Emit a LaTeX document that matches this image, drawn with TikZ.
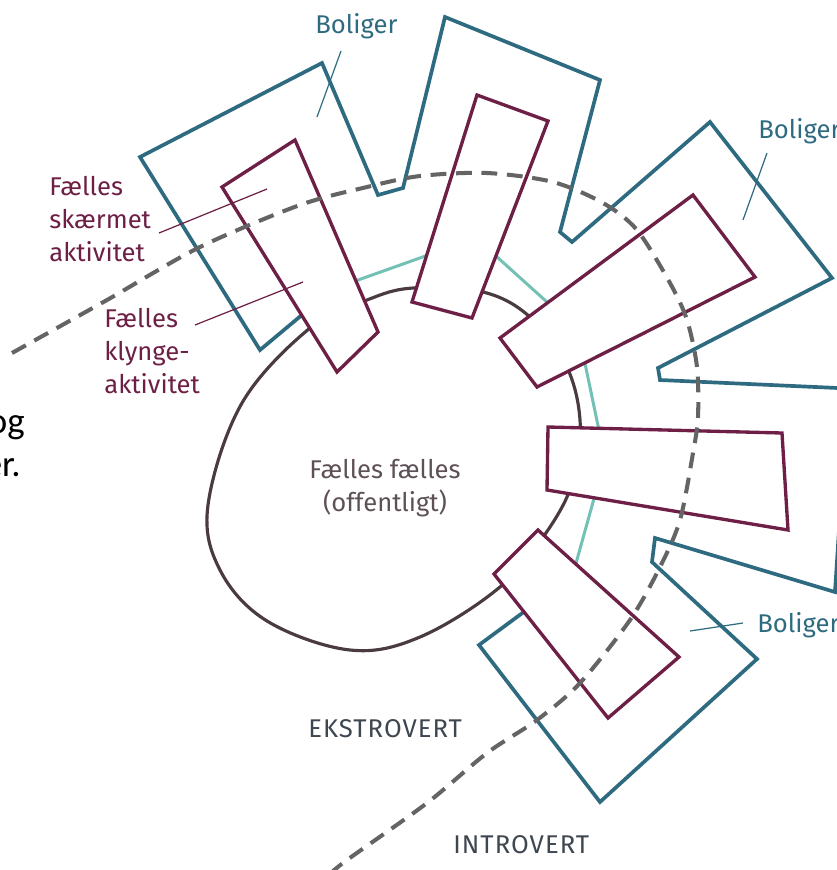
\documentclass[tikz,border=0pt]{standalone}
\usepackage{fontspec}
\setmainfont{Fira Sans}
\newfontfamily\bodyfont{Carlito}
\definecolor{boligblue}{HTML}{2E6B80}
\definecolor{fellespurple}{HTML}{6D1F45}
\definecolor{ringteal}{HTML}{72C1B4}
\definecolor{eggbrown}{HTML}{4A3B41}
\definecolor{dashgrey}{HTML}{646464}
\definecolor{offgrey}{HTML}{5E5057}
\definecolor{vertgrey}{HTML}{3E4650}
\tikzset{
    bolig/.style={draw=boligblue, line width=2.1pt, line join=miter},
    fellesbox/.style={draw=fellespurple, fill=white, line width=1.9pt, line join=miter},
    boliglbl/.style={text=boligblue, inner sep=0pt, anchor=base west},
    felleslbl/.style={text=fellespurple, inner sep=0pt, anchor=north west, align=left},
    vertlbl/.style={text=vertgrey, inner sep=0pt, anchor=base west, font=\fontsize{14.6}{18.7}\selectfont\addfontfeature{LetterSpace=4}},
    leaderblue/.style={draw=boligblue, line width=0.7pt},
    leaderpurple/.style={draw=fellespurple, line width=0.7pt},
}
\newcommand{\Egg}{
    \draw[eggbrown, line width=1.8pt] plot[smooth cycle, tension=0.6] coordinates {
        (413,288) (483,292) (530,317) (566,365) (580,420) (574,478) (548,530)
        (500,587) (420,637) (350,650) (267,621) (220,570) (208,505)
        (242,403) (310,328) (367,300)};
}

\begin{document}
\begin{tikzpicture}[x=0.02cm, y=-0.02cm, font=\fontsize{14.6}{18.7}\selectfont]
    \useasboundingbox (0,0) rectangle (837,870);
    \clip (0,0) rectangle (837,870);

    % ring and egg behind the boxes
    \draw[ringteal, line width=1.7pt] (330,290) -- (476,238) -- (578,330) -- (605,459) -- (568,592);
    \Egg

    % boliger outline, running out at the right edge
    \draw[bolig] (315,304) -- (260,350) -- (140,157) -- (322,63) -- (378,195) -- (403,188)
        -- (445,17) -- (600,80) -- (560,232) -- (572,242) -- (710,122) -- (832,278)
        -- (658,368) -- (660,380) -- (860,389);
    \draw[bolig] (839,530) -- (835,592)
        -- (655,538) -- (652,562) -- (757,659) -- (600,802) -- (479,645) -- (540,600);

    % faelles boxes
    \draw[fellesbox] (222,187) -- (295,140) -- (378,332) -- (337,372) -- cycle;
    \draw[fellesbox] (477,95) -- (548,121) -- (472,318) -- (412,302) -- cycle;
    \draw[fellesbox] (693,195) -- (755,277) -- (537,387) -- (500,338) -- cycle;
    \draw[fellesbox] (548,427) -- (782,433) -- (788,530) -- (547,490) -- cycle;
    \draw[fellesbox] (538,530) -- (679,657) -- (608,718) -- (494,574) -- cycle;

    % ekstrovert / introvert border
    \draw[dashgrey, line width=2.3pt, dash pattern=on 9pt off 5.5pt] plot[smooth] coordinates {
        (12,353) (107,300) (200,247) (300,205) (367,187) (420,176) (487,173)
        (553,182) (603,203) (637,230) (670,283) (687,320) (697,367) (698,417)
        (693,453) (680,520) (660,567) (630,620) (580,683) (537,720) (487,753)
        (427,803) (347,860) (330,874)};

    % labels
    \node[boliglbl] (bolA) at (315,33) {Boliger};
    \node[boliglbl] (bolB) at (758,138) {Boliger};
    \node[boliglbl] (bolC) at (757,632) {Boliger};
    \coordinate (bolA-from) at (341,51);
    \coordinate (bolA-to) at (317,117);
    \coordinate (bolB-from) at (767,153);
    \coordinate (bolB-to) at (743,220);
    \coordinate (bolC-from) at (743,623);
    \coordinate (bolC-to) at (690,631);
    \draw[leaderblue] (bolA-from) -- (bolA-to);
    \draw[leaderblue] (bolB-from) -- (bolB-to);
    \draw[leaderblue] (bolC-from) -- (bolC-to);

    \node[felleslbl] (skaermet) at (49,176) {Fælles\\skærmet\\aktivitet};
    \node[felleslbl] (klynge) at (104,308) {Fælles\\klynge-\\aktivitet};
    \coordinate (skaermet-from) at (159,233);
    \coordinate (skaermet-to) at (267,189);
    \coordinate (klynge-from) at (195,325);
    \coordinate (klynge-to) at (303,282);
    \draw[leaderpurple] (skaermet-from) -- (skaermet-to);
    \draw[leaderpurple] (klynge-from) -- (klynge-to);

    \node[text=offgrey, inner sep=0pt, anchor=north, align=center] (offentligt) at (385,459)
        {Fælles fælles\\(offentligt)};
    \node[vertlbl] (ekstro) at (308,737) {EKSTROVERT};
    \node[vertlbl] (intro) at (453,853) {INTROVERT};

    \node[inner sep=0pt, anchor=base east, font=\bodyfont\fontsize{21}{24}\selectfont] (og) at (25,433) {og};
    \node[inner sep=0pt, anchor=base east, font=\bodyfont\fontsize{21}{24}\selectfont] (er) at (21,476) {er.};
\end{tikzpicture}
\end{document}
